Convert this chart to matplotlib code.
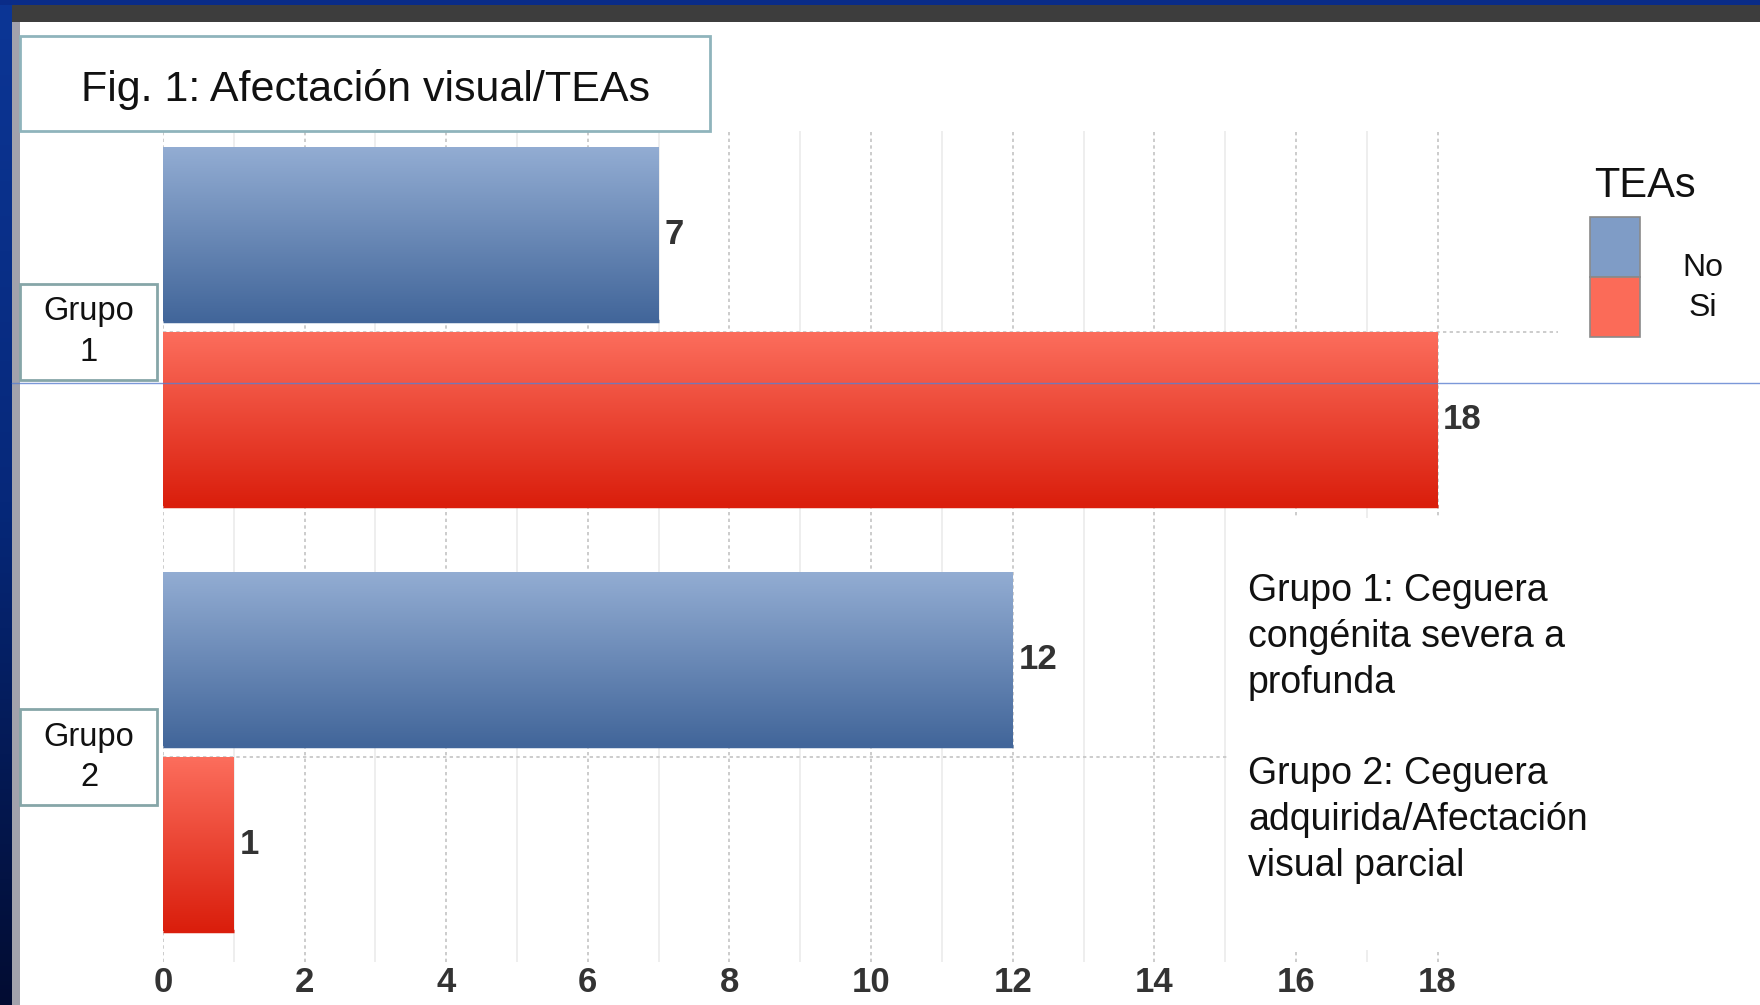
import numpy as np
import matplotlib.pyplot as plt
from matplotlib.colors import LinearSegmentedColormap
from matplotlib.patches import Rectangle
from matplotlib.transforms import blended_transform_factory

# datos
grupos = ['Grupo\n1', 'Grupo\n2']
teas_no = [7, 12]
teas_si = [18, 1]
leyenda_titulo = 'TEAs'
leyenda_labels = ['No', 'Si']
x_ticks = [0, 2, 4, 6, 8, 10, 12, 14, 16, 18]
x_minor = [1, 3, 5, 7, 9, 11, 13, 15, 17]
titulo = 'Fig. 1: Afectación visual/TEAs'
nota_1 = 'Grupo 1: Ceguera\ncongénita severa a\nprofunda'
nota_2 = 'Grupo 2: Ceguera\nadquirida/Afectación\nvisual parcial'

W, H = 1760, 1005
TXT = ['Liberation Sans', 'DejaVu Sans']
NUM = ['Liberation Sans Narrow', 'DejaVu Sans Condensed', 'Liberation Sans', 'DejaVu Sans']

fig = plt.figure(figsize=(17.6, 10.05), dpi=100, facecolor='white')

# fondo tipo diapositiva (borde azul, banda superior)
bg = fig.add_axes([0, 0, 1, 1], zorder=-1)
bg.axis('off')
borde = LinearSegmentedColormap.from_list('borde', ['#0c3696', '#06287a', '#020c32'])
bg.imshow(np.linspace(0, 1, 256).reshape(-1, 1), cmap=borde, aspect='auto',
          extent=(0, 12, H, 0))
bg.add_patch(Rectangle((12, 0), 8, H, color='#a2a2ac', lw=0))
bg.add_patch(Rectangle((0, 0), W, 5, color='#0a2c88', lw=0))
bg.add_patch(Rectangle((12, 5), W - 12, 17, color='#3d3d3d', lw=0))
bg.set_xlim(0, W)
bg.set_ylim(H, 0)

# grafico principal
ax = fig.add_axes([163 / W, 1 - 962 / H, (1558 - 163) / W, (962 - 131) / H])
y = np.arange(len(grupos))
h = 0.41
bars_no = ax.barh(y - 0.23, teas_no, height=h, color='#6f8fbc', zorder=2)
bars_si = ax.barh(y + 0.205, teas_si, height=h, color='#f2503c', zorder=2)


def gradiente(bars, c_top, c_bot):
    cmap = LinearSegmentedColormap.from_list('g', [c_top, c_bot])
    grad = np.linspace(0, 1, 256).reshape(-1, 1)
    for b in bars:
        x0, y0 = b.get_x(), b.get_y()
        x1, y1 = x0 + b.get_width(), y0 + b.get_height()
        im = ax.imshow(grad, cmap=cmap, aspect='auto', origin='upper',
                       extent=(x0, x1, y1, y0), zorder=2.5)
        im.set_clip_path(b)
        ax.plot([x0, x1], [y1, y1], color=c_bot, lw=2.5, zorder=2.6,
                solid_capstyle='butt')


gradiente(bars_no, '#93add3', '#42669a')
gradiente(bars_si, '#fc6e5d', '#da1e0c')

for bars in (bars_no, bars_si):
    ax.bar_label(bars, padding=4, fontsize=25, fontfamily=NUM, fontweight='bold',
                 fontstretch='condensed', color='#333333')

ax.set_xlim(0, 19.7)
ax.set_ylim(1.482, -0.473)
ax.set_xticks(x_ticks)
ax.set_xticks(x_minor, minor=True)
ax.set_yticks(y)
ax.set_yticklabels([])
ax.grid(True, axis='x', which='major', color='#c4c4c4', linestyle=(0, (2, 2)), lw=1.2, zorder=0)
ax.grid(True, axis='x', which='minor', color='#ebebeb', linestyle='-', lw=1.2, zorder=0)
ax.grid(True, axis='y', which='major', color='#c4c4c4', linestyle=(0, (2, 2)), lw=1.2, zorder=0)
ax.set_axisbelow(True)
ax.tick_params(which='both', length=0)
ax.tick_params(axis='x', pad=3, labelsize=25, labelcolor='#333333')
for lab in ax.get_xticklabels():
    lab.set_fontfamily(NUM)
    lab.set_fontweight('bold')
    lab.set_fontstretch('condensed')
for s in ax.spines.values():
    s.set_visible(False)

# etiquetas de grupo en cajas
trans = blended_transform_factory(fig.transFigure, ax.transData)
for yi, g in zip(y, grupos):
    ax.add_patch(Rectangle((20 / W, yi - 0.113), 137 / W, 0.226, transform=trans,
                           fc='white', ec='#86a6a8', lw=2, clip_on=False, zorder=6))
    ax.text(89 / W, yi, g, transform=trans, ha='center', va='center', fontsize=23.5,
            fontfamily=TXT, linespacing=1.38, color='#111111', zorder=7, clip_on=False)

# capa superior: titulo, notas, leyenda
ov = fig.add_axes([0, 0, 1, 1], zorder=5)
ov.axis('off')
ov.patch.set_alpha(0)

ov.add_patch(Rectangle((20, 36), 690, 95, fc='white', ec='#8fb4bc', lw=2))
ov.text(81, 89, titulo, ha='left', va='center', fontsize=31, fontfamily=TXT, color='#111111')

ov.add_patch(Rectangle((1228, 518), W - 1228, 432, fc='white', lw=0))
ov.text(1248, 637, nota_1, ha='left', va='center', fontsize=27, fontfamily=TXT,
        linespacing=1.36, color='#111111')
ov.text(1248, 820, nota_2, ha='left', va='center', fontsize=27, fontfamily=TXT,
        linespacing=1.36, color='#111111')

ov.text(1645, 186, leyenda_titulo, ha='center', va='center', fontsize=30, fontfamily=TXT,
        color='#111111')
for i, (lab, col) in enumerate(zip(leyenda_labels, ['#7f9cc6', '#fb6b58'])):
    ov.add_patch(Rectangle((1590, 217 + i * 60), 50, 60, fc=col, ec='#8a8a8a', lw=1.2))
    ov.text(1703, 268 + i * 40, lab, ha='center', va='center', fontsize=23,
            fontfamily=TXT, color='#111111')

# linea guia azul de la diapositiva
ov.plot([12, W], [383, 383], color='#5a7fd0', lw=1, alpha=0.8)
ov.set_xlim(0, W)
ov.set_ylim(H, 0)

fig.savefig('out.png', dpi=100, facecolor='white')
